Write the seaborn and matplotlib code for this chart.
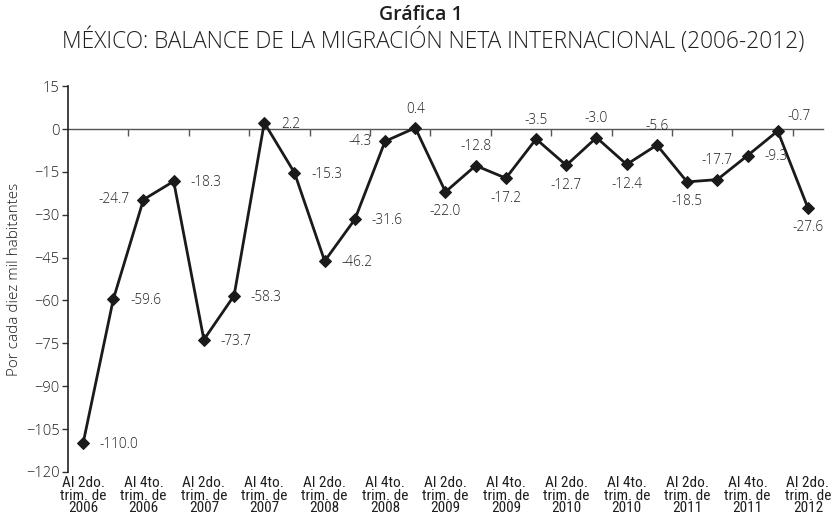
import numpy as np
import pandas as pd
import seaborn as sns
import matplotlib.pyplot as plt

# quarterly balance, Q2 2006 .. Q2 2012
values = [-110.0, -59.6, -24.7, -18.3, -73.7, -58.3, 2.2, -15.3, -46.2, -31.6,
          -4.3, 0.4, -22.0, -12.8, -17.2, -3.5, -12.7, -3.0, -12.4, -5.6,
          -18.5, -17.7, -9.3, -0.7, -27.6]
# where each value label sits relative to its marker
label_side = ["r", "r", "l", "r", "r", "r", "r", "r", "r", "r",
              "l", "a", "b", "a", "b", "a", "b", "a", "b", "a",
              "b", "a", "r", "ar", "b"]
tick_labels = ["Al 2do.\ntrim. de\n2006", "Al 4to.\ntrim. de\n2006",
               "Al 2do.\ntrim. de\n2007", "Al 4to.\ntrim. de\n2007",
               "Al 2do.\ntrim. de\n2008", "Al 4to.\ntrim. de\n2008",
               "Al 2do.\ntrim. de\n2009", "Al 4to.\ntrim. de\n2009",
               "Al 2do.\ntrim. de\n2010", "Al 4to.\ntrim. de\n2010",
               "Al 2do.\ntrim. de\n2011", "Al 4to.\ntrim. de\n2011",
               "Al 2do.\ntrim. de\n2012"]
y_ticks = list(range(-120, 16, 15))

df = pd.DataFrame({"idx": np.arange(len(values)), "val": values})

sns.set_theme(style="white")
plt.rcParams["font.family"] = ["Open Sans", "DejaVu Sans"]
txt = "#1e1e1e"

fig = plt.figure(figsize=(8.33, 5.22), dpi=100)
ax = fig.add_axes([0.0816, 0.0958, 0.9064, 0.7392])

sns.lineplot(data=df, x="idx", y="val", ax=ax, color="#1a1a1a", lw=2,
             marker="D", markersize=6.5, markeredgecolor="#1a1a1a")

ax.set_xlim(-0.5, len(values) - 0.5)
ax.set_ylim(-120, 15)
ax.set_yticks(y_ticks)
ax.tick_params(axis="y", direction="out", length=4, width=1, color="#333",
               labelsize=10.5, labelcolor=txt, pad=2, left=True)
for t in ax.get_yticklabels():
    t.set_fontweight("light")
ax.set_xticks(np.arange(0, len(values), 2))
ax.set_xticklabels(tick_labels, fontsize=11, linespacing=0.85, color=txt,
                   family=["Roboto Condensed", "Roboto", "DejaVu Sans"])
ax.tick_params(axis="x", length=0, pad=3)
ax.set_xlabel("")
ax.set_ylabel("Por cada diez mil habitantes", fontsize=11, color=txt,
              labelpad=3, fontweight="light")

for s in ["top", "right", "bottom"]:
    ax.spines[s].set_visible(False)
ax.spines["left"].set_color("#222")
ax.spines["left"].set_linewidth(1.2)

# zero line carrying the category boundary ticks
sec = ax.secondary_xaxis(0, transform=ax.transData)
sec.set_xticks(np.arange(1.5, len(values) - 0.5, 2))
sec.set_xticklabels([])
sec.tick_params(direction="out", length=5, width=1, color="#555")
sec.spines["bottom"].set_color("#555")
sec.spines["bottom"].set_linewidth(1)

offsets = {"r": ((12, -1), "left", "center"),
           "l": ((-10, 0), "right", "center"),
           "a": ((0, 8), "center", "bottom"),
           "b": ((0, -9), "center", "top"),
           "ar": ((7, 5), "left", "bottom")}
for i, (v, side) in enumerate(zip(values, label_side)):
    off, ha, va = offsets[side]
    ax.annotate(f"{v:.1f}", (i, v), xytext=off, textcoords="offset points",
                ha=ha, va=va, fontsize=9.8, color=txt, fontweight="light")

fig.text(0.505, 0.972, "Gráfica 1", ha="center", va="center",
         fontsize=14, fontweight="semibold", color=txt)
fig.text(0.52, 0.922, "MÉXICO: BALANCE DE LA MIGRACIÓN NETA INTERNACIONAL (2006-2012)",
         ha="center", va="center", fontsize=16.4, color=txt, fontweight="light")

fig.savefig("out.png", dpi=100)
